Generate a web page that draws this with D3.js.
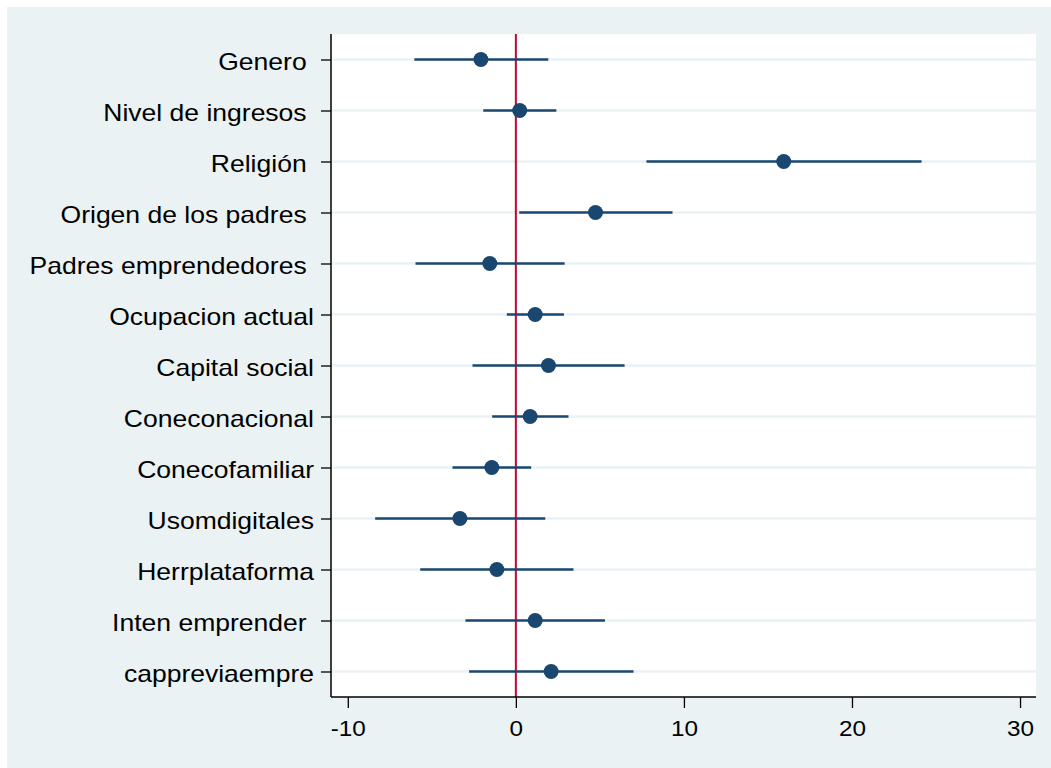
<!DOCTYPE html>
<html>
<head>
<meta charset="utf-8">
<script src="https://cdn.jsdelivr.net/npm/d3@7"></script>
<style>
  html, body { margin: 0; padding: 0; background: #fff; }
  svg { display: block; font-family: "Liberation Sans", Arial, sans-serif; }
  .ylab { white-space: pre; }
</style>
</head>
<body>
<svg id="chart" width="1051" height="768"></svg>
<script>
// coefficient plot data
const labels = [
  "Genero ", "Nivel de ingresos ", "Religión ", "Origen de los padres ",
  "Padres emprendedores ", "Ocupacion actual", "Capital social", "Coneconacional",
  "Conecofamiliar", "Usomdigitales", "Herrplataforma", "Inten emprender ", "cappreviaempre"
];
const estimates = [-2.08, 0.23, 15.94, 4.74, -1.55, 1.15, 1.94, 0.85, -1.43, -3.33, -1.13, 1.15, 2.10];
const lower = [-6.04, -1.94, 7.77, 0.20, -5.97, -0.54, -2.58, -1.41, -3.77, -8.37, -5.69, -3.00, -2.78];
const upper = [1.93, 2.41, 24.14, 9.32, 2.90, 2.86, 6.47, 3.13, 0.91, 1.75, 3.43, 5.30, 7.00];
const xTicks = [-10, 0, 10, 20, 30];

const navy = "#1a476f";
const refColor = "#c10534";
const gridColor = "#eaf2f3";

const plot = { left: 331, right: 1036, top: 34, bottom: 697 };

const svg = d3.select("#chart");

// outer region
svg.append("rect")
  .attr("x", 7).attr("y", 7)
  .attr("width", 1051 - 7).attr("height", 768 - 7)
  .attr("fill", "#eaf2f3");

// plot region
svg.append("rect")
  .attr("x", plot.left).attr("y", plot.top)
  .attr("width", plot.right - plot.left).attr("height", plot.bottom - plot.top)
  .attr("fill", "#fff");

const x = d3.scaleLinear().domain([-11.0, 30.95]).range([plot.left, plot.right]);
const y = d3.scalePoint().domain(labels).range([plot.top, plot.bottom]).padding(0.5);

const rows = labels.map((l, i) => ({ label: l, est: estimates[i], lo: lower[i], hi: upper[i] }));

// gridlines
svg.append("g").selectAll("line")
  .data(labels)
  .enter().append("line")
  .attr("x1", plot.left).attr("x2", plot.right)
  .attr("y1", d => y(d)).attr("y2", d => y(d))
  .attr("stroke", gridColor).attr("stroke-width", 2.5);

// reference line at zero
svg.append("line")
  .attr("x1", x(0)).attr("x2", x(0))
  .attr("y1", plot.top).attr("y2", plot.bottom)
  .attr("stroke", refColor).attr("stroke-width", 2);

// confidence intervals
svg.append("g").selectAll("line")
  .data(rows)
  .enter().append("line")
  .attr("x1", d => x(d.lo)).attr("x2", d => x(d.hi))
  .attr("y1", d => y(d.label)).attr("y2", d => y(d.label))
  .attr("stroke", navy).attr("stroke-width", 2.5);

// point estimates
svg.append("g").selectAll("circle")
  .data(rows)
  .enter().append("circle")
  .attr("cx", d => x(d.est)).attr("cy", d => y(d.label))
  .attr("r", 7.5)
  .attr("fill", navy);

// y axis
const yAxis = svg.append("g")
  .attr("transform", `translate(${plot.left},0)`)
  .call(d3.axisLeft(y).tickSize(10).tickPadding(8).tickSizeOuter(0));
yAxis.select(".domain").remove();
yAxis.append("line")
  .attr("y1", plot.top).attr("y2", plot.bottom)
  .attr("stroke", "#000").attr("stroke-width", 1.5);
yAxis.selectAll(".tick line").attr("stroke", "#000").attr("stroke-width", 1.3);
// the reference font renders a little wider than Liberation Sans, so stretch it
yAxis.selectAll(".tick text")
  .attr("class", "ylab")
  .attr("x", 0)
  .attr("dy", "0.41em")
  .attr("transform", "translate(-17,0) scale(1.105,1)")
  .attr("font-size", 24)
  .attr("font-family", "Liberation Sans, Arial, sans-serif")
  .attr("fill", "#000");

// x axis
const xAxis = svg.append("g")
  .attr("transform", `translate(0,${plot.bottom})`)
  .call(d3.axisBottom(x).tickValues(xTicks).tickFormat(d => String(d))
    .tickSize(11).tickPadding(12).tickSizeOuter(0));
xAxis.select(".domain").remove();
xAxis.append("line")
  .attr("x1", plot.left).attr("x2", plot.right)
  .attr("stroke", "#000").attr("stroke-width", 1.5);
xAxis.selectAll(".tick line").attr("stroke", "#000").attr("stroke-width", 1.3);
xAxis.selectAll(".tick text")
  .attr("transform", "scale(1.08,1)")
  .attr("x", 0)
  .attr("font-size", 22.5)
  .attr("font-family", "Liberation Sans, Arial, sans-serif")
  .attr("fill", "#000");
</script>
</body>
</html>
